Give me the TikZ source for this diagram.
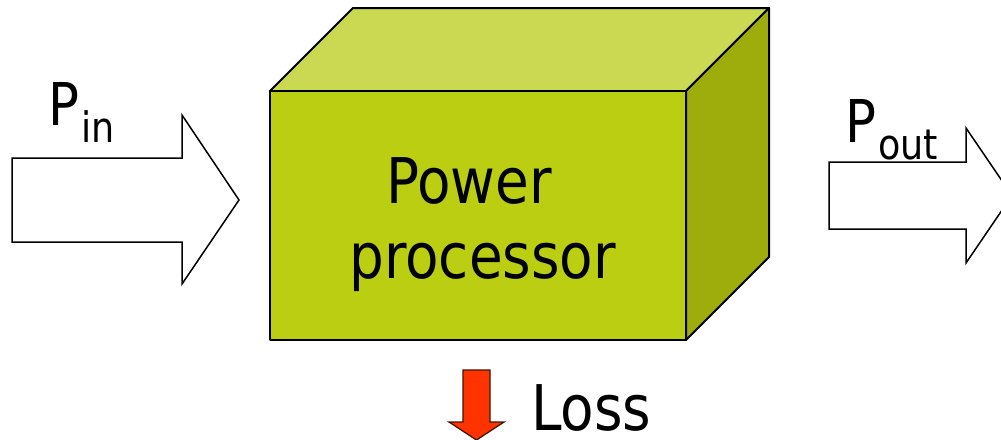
\documentclass[tikz,border=0pt]{standalone}
\usepackage{fontspec}
\newfontfamily\tahomalike[FakeStretch=0.87]{DejaVu Sans}
\definecolor{frontc}{RGB}{188,206,18}
\definecolor{topc}{RGB}{203,216,82}
\definecolor{sidec}{RGB}{158,173,12}
\definecolor{lossred}{RGB}{255,51,0}
\definecolor{lossedge}{RGB}{70,20,0}
\tikzset{
  boxface/.style={draw=black, line width=2pt, line join=round},
  blockarrow/.style={draw=black, fill=white, line width=1.5pt, line join=miter},
  lossarrow/.style={draw=lossedge, fill=lossred, line width=1.3pt, line join=miter},
  bigtext/.style={inner sep=0pt, font=\tahomalike\fontsize{63}{75}\selectfont},
  labeltext/.style={inner sep=0pt, font=\tahomalike\fontsize{59}{70}\selectfont},
}
\newcommand{\subtxt}[1]{\raisebox{-17pt}{\fontsize{42}{42}\selectfont #1}}
\begin{document}
\begin{tikzpicture}[x=1pt,y=-1pt]
\useasboundingbox (0,0) rectangle (1001,439);
\clip (0,0) rectangle (1001,439);
% box corners
\coordinate (ftl) at (270,91);
\coordinate (ftr) at (686,91);
\coordinate (fbr) at (686,340);
\coordinate (fbl) at (270,340);
\coordinate (btl) at (353,8);
\coordinate (btr) at (769,8);
\coordinate (bbr) at (769,257);
% faces
\draw[boxface, fill=topc] (ftl) -- (btl) -- (btr) -- (ftr) -- cycle;
\draw[boxface, fill=sidec] (ftr) -- (btr) -- (bbr) -- (fbr) -- cycle;
\draw[boxface, fill=frontc] (ftl) -- (ftr) -- (fbr) -- (fbl) -- cycle;
% input arrow
\draw[blockarrow] (12,158) -- (182,158) -- (182,115) -- (239,200) -- (182,284) -- (182,242) -- (12,242) -- cycle;
% output arrow
\draw[blockarrow] (829,162) -- (966,162) -- (966,128) -- (1012,195.5) -- (966,263) -- (966,229) -- (829,229) -- cycle;
% loss arrow
\draw[lossarrow] (463,370) -- (490,370) -- (490,422) -- (504,422) -- (476.5,440) -- (449,422) -- (463,422) -- cycle;
% texts
\node[bigtext, anchor=base west] (pw) at (386,203) {Power};
\node[bigtext, anchor=base west] (pr) at (349,278) {processor};
\node[labeltext, anchor=base west] (pin) at (48,125) {P\kern2pt\subtxt{in}};
\node[labeltext, anchor=base west] (pout) at (845,142) {P\kern2pt\subtxt{out}};
\node[bigtext, anchor=base west, text depth=0pt] (loss) at (531,430) {Loss};
\end{tikzpicture}
\end{document}
